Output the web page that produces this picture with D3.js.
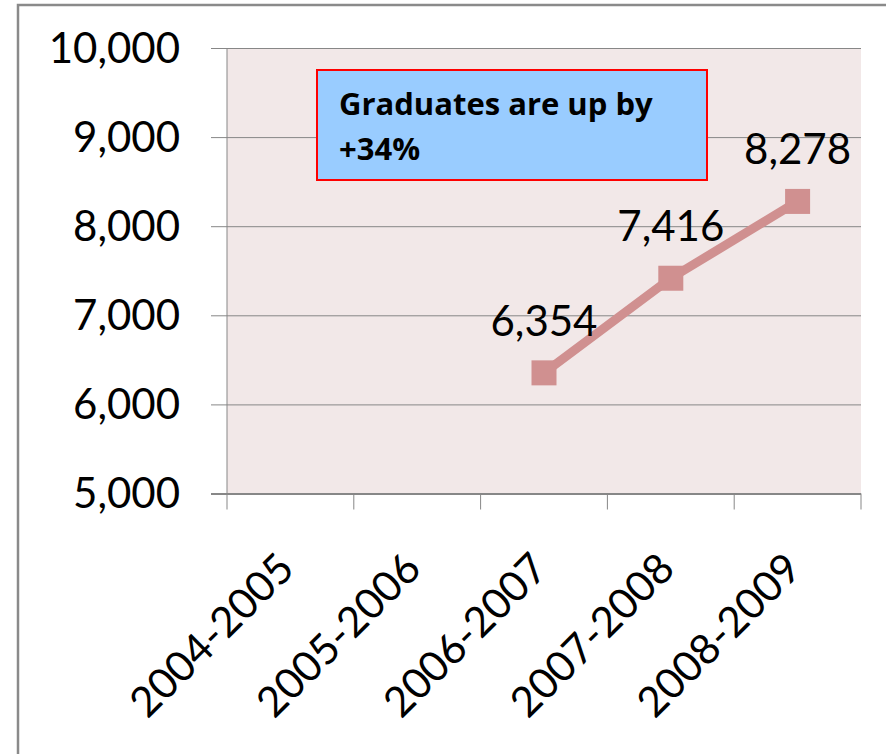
<!DOCTYPE html>
<html>
<head>
<meta charset="utf-8">
<script src="https://cdn.jsdelivr.net/npm/d3@7"></script>
<style>
  html, body { margin: 0; padding: 0; background: #ffffff; }
  svg { display: block; }
  text { font-family: Lato, "Open Sans", sans-serif; }
</style>
</head>
<body>
<svg id="chart" width="886" height="754"></svg>
<script>
const categories = ["2004-2005", "2005-2006", "2006-2007", "2007-2008", "2008-2009"];
const graduates = [null, null, 6354, 7416, 8278];
const yTicks = [5000, 6000, 7000, 8000, 9000, 10000];
const calloutLines = ["Graduates are up by", "+34%"];

const W = 886, H = 754;
const plot = { left: 227, right: 861, top: 48, bottom: 493.5 };
const svg = d3.select("#chart");

const x = d3.scaleBand().domain(categories).range([plot.left, plot.right]).padding(0);
const y = d3.scaleLinear().domain([5000, 10000]).range([plot.bottom, plot.top]);
const fmt = d3.format(",");
const grey = "#878787";
const lineColor = "#d09090";

// outer frame (left and top)
svg.append("path")
  .attr("d", d3.line()([[18, H], [18, 5], [W, 5]]))
  .attr("fill", "none").attr("stroke", "#8a8a8a").attr("stroke-width", 2.5);

// plot background
svg.append("rect")
  .attr("x", plot.left).attr("y", plot.top)
  .attr("width", plot.right - plot.left).attr("height", plot.bottom - plot.top)
  .attr("fill", "#f2e8e8");

// gridlines + y labels
const yAxis = d3.axisLeft(y).tickValues(yTicks).tickFormat(fmt)
  .tickSize(-(plot.right - plot.left)).tickPadding(0);
const yg = svg.append("g").attr("transform", `translate(${plot.left},0)`).call(yAxis);
yg.select(".domain").remove();
yg.selectAll(".tick line")
  .attr("x1", -16)
  .attr("stroke", grey)
  .attr("stroke-width", d => d === 5000 ? 2 : 1);
yg.selectAll(".tick text")
  .attr("x", -47).attr("dy", null).attr("y", 14)
  .attr("font-size", 42).attr("fill", "#000");

// y axis vertical line
svg.append("line")
  .attr("x1", plot.left).attr("x2", plot.left)
  .attr("y1", plot.top).attr("y2", plot.bottom + 16)
  .attr("stroke", grey).attr("stroke-width", 1);

// x ticks at band boundaries
const bounds = categories.map(c => x(c)).concat([x(categories[categories.length - 1]) + x.bandwidth()]);
svg.append("g").selectAll("line").data(bounds.slice(1)).join("line")
  .attr("x1", d => d).attr("x2", d => d)
  .attr("y1", plot.bottom).attr("y2", plot.bottom + 16)
  .attr("stroke", grey).attr("stroke-width", 1);

// x labels
svg.append("g").selectAll("text").data(categories).join("text")
  .attr("transform", d => `translate(${x(d) + x.bandwidth() / 2 + 6},571) rotate(-45)`)
  .attr("text-anchor", "end")
  .attr("font-size", 42).attr("fill", "#000")
  .text(d => d);

// series
const pts = categories.map((c, i) => ({ c, v: graduates[i] })).filter(d => d.v != null);
const cx = d => x(d.c) + x.bandwidth() / 2;
svg.append("path")
  .datum(pts)
  .attr("d", d3.line().x(cx).y(d => y(d.v)))
  .attr("fill", "none").attr("stroke", lineColor).attr("stroke-width", 9);
svg.append("g").selectAll("rect").data(pts).join("rect")
  .attr("x", d => cx(d) - 12.5).attr("y", d => y(d.v) - 12.5)
  .attr("width", 25).attr("height", 25)
  .attr("fill", lineColor);
svg.append("g").selectAll("text").data(pts).join("text")
  .attr("x", cx).attr("y", d => y(d.v) - 37)
  .attr("text-anchor", "middle")
  .attr("font-size", 42).attr("fill", "#000")
  .text(d => fmt(d.v));

// callout box
svg.append("rect")
  .attr("x", 317).attr("y", 70).attr("width", 390).attr("height", 110)
  .attr("fill", "#99ccff").attr("stroke", "#ff0000").attr("stroke-width", 2);
svg.append("g").selectAll("text").data(calloutLines).join("text")
  .attr("x", 339).attr("y", (d, i) => 115 + i * 45)
  .style("font-family", "'Open Sans', Lato, sans-serif")
  .attr("font-size", 31).attr("font-weight", "bold").attr("fill", "#000")
  .text(d => d);
</script>
</body>
</html>
